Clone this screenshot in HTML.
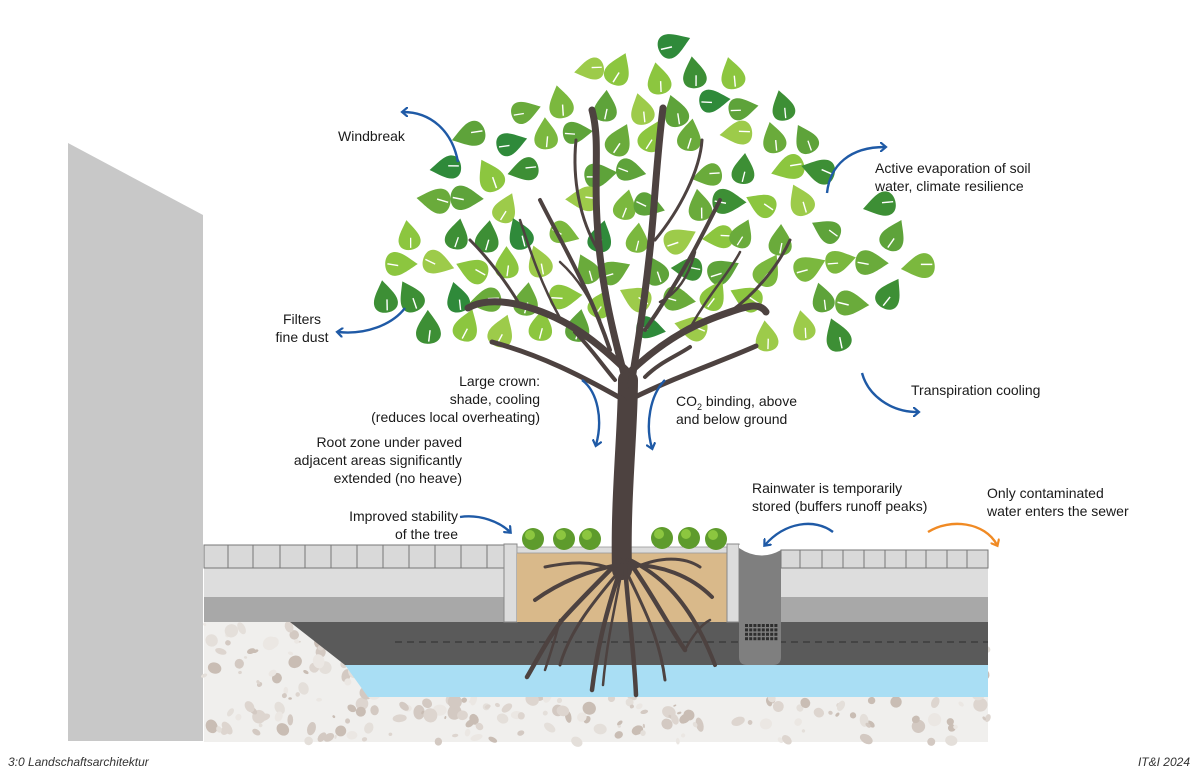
<!DOCTYPE html>
<html><head><meta charset="utf-8"><style>
html,body{margin:0;padding:0;background:#fff;}
svg{display:block;}
text{font-family:"Liberation Sans",Arial,sans-serif;font-size:14px;fill:#1a1a1a;}
.it{font-style:italic;font-size:12px;fill:#333;}
</style></head><body>
<svg id="s" width="1200" height="777" viewBox="0 0 1200 777" xmlns="http://www.w3.org/2000/svg">
<defs>
<marker id="ab" markerWidth="10" markerHeight="10" refX="5" refY="5" orient="auto" markerUnits="userSpaceOnUse"><path d="M0,0 L6,5 L0,10" fill="none" stroke="#1f5aa6" stroke-width="2.2"/></marker>
<marker id="ao" markerWidth="10" markerHeight="10" refX="5" refY="5" orient="auto" markerUnits="userSpaceOnUse"><path d="M0,0 L6,5 L0,10" fill="none" stroke="#f08a24" stroke-width="2.2"/></marker>
</defs>
<polygon points="68,143 203,215 203,741 68,741" fill="#c8c8c8"/>
<rect x="204" y="622" width="784" height="120" fill="#f0efed"/>
<g id="gravel"></g>
<polygon points="290,622 988,622 988,665 345,665" fill="#5a5a5a"/>
<polygon points="345,665 988,665 988,697 368,697" fill="#a9def4"/>
<line x1="395" y1="642" x2="988" y2="642" stroke="#2e2e2e" stroke-width="1" stroke-dasharray="7,5"/>
<rect x="204" y="568" width="301" height="29" fill="#dddddd"/>
<rect x="204" y="597" width="301" height="25" fill="#a8a8a8"/>
<rect x="204" y="545" width="301" height="23" fill="#d9d9d9" stroke="#777" stroke-width="1"/>
<g stroke="#777" stroke-width="1">
<line x1="228" y1="545" x2="228" y2="568"/><line x1="253" y1="545" x2="253" y2="568"/><line x1="280" y1="545" x2="280" y2="568"/><line x1="305" y1="545" x2="305" y2="568"/><line x1="331" y1="545" x2="331" y2="568"/><line x1="357" y1="545" x2="357" y2="568"/><line x1="383" y1="545" x2="383" y2="568"/><line x1="409" y1="545" x2="409" y2="568"/><line x1="435" y1="545" x2="435" y2="568"/><line x1="461" y1="545" x2="461" y2="568"/><line x1="487" y1="545" x2="487" y2="568"/>
</g>
<rect x="504" y="544" width="13" height="78" fill="#dcdcdc" stroke="#888" stroke-width="1"/>
<rect x="517" y="553" width="210" height="69" fill="#d9b98a"/>
<rect x="517" y="547" width="210" height="6" fill="#dcdcdc" stroke="#999" stroke-width="0.8"/>
<rect x="727" y="544" width="12" height="78" fill="#dcdcdc" stroke="#888" stroke-width="1"/>
<path d="M739,548 L739,657 Q739,665 747,665 L773,665 Q781,665 781,657 L781,548 Z" fill="#7f7f7f"/>
<path d="M739,548 Q760,562 781,550 L781,545 L739,545 Z" fill="#fff"/>
<g id="grate"></g>
<rect x="781" y="568" width="207" height="29" fill="#dddddd"/>
<rect x="781" y="597" width="207" height="25" fill="#a8a8a8"/>
<rect x="781" y="550" width="207" height="18" fill="#d9d9d9" stroke="#777" stroke-width="1"/>
<g stroke="#777" stroke-width="1">
<line x1="800" y1="550" x2="800" y2="568"/><line x1="822" y1="550" x2="822" y2="568"/><line x1="843" y1="550" x2="843" y2="568"/><line x1="864" y1="550" x2="864" y2="568"/><line x1="885" y1="550" x2="885" y2="568"/><line x1="906" y1="550" x2="906" y2="568"/><line x1="926" y1="550" x2="926" y2="568"/><line x1="947" y1="550" x2="947" y2="568"/><line x1="967" y1="550" x2="967" y2="568"/>
</g>
<g fill="#5e9b2c">
<circle cx="533" cy="539" r="11"/><circle cx="564" cy="539" r="11"/><circle cx="590" cy="539" r="11"/>
<circle cx="662" cy="538" r="11"/><circle cx="689" cy="538" r="11"/><circle cx="716" cy="539" r="11"/>
</g>
<g fill="#8cc63f">
<circle cx="530" cy="535" r="5"/><circle cx="561" cy="535" r="5"/><circle cx="587" cy="535" r="5"/>
<circle cx="659" cy="534" r="5"/><circle cx="686" cy="534" r="5"/><circle cx="713" cy="535" r="5"/>
</g>
<g id="leaves"></g>
<g fill="none" stroke="#4d4240" stroke-linecap="round">
<path d="M622,570 C620,500 628,430 628,380" stroke-width="20"/>
<path d="M627,385 C612,330 600,280 597,220 C594,170 600,140 592,110" stroke-width="7"/>
<path d="M631,385 C642,320 650,260 654,205 C657,165 659,140 663,108" stroke-width="7"/>
<path d="M626,370 C590,335 560,315 520,305 C495,299 478,302 468,308" stroke-width="7"/>
<path d="M632,370 C670,335 700,322 730,312 C750,305 760,303 766,312" stroke-width="7"/>
<path d="M624,400 C580,375 540,355 492,342" stroke-width="5"/>
<path d="M633,398 C680,375 720,362 756,346" stroke-width="5"/>
<path d="M610,350 C590,290 560,240 540,200" stroke-width="4"/>
<path d="M645,330 C680,280 700,240 720,200" stroke-width="4"/>
<path d="M598,250 C580,220 572,180 576,140" stroke-width="3"/>
<path d="M655,240 C680,210 700,170 702,140" stroke-width="3"/>
<path d="M520,305 C500,272 482,252 470,240" stroke-width="3"/>
<path d="M730,312 C760,290 780,262 790,240" stroke-width="3"/>
<path d="M560,318 C540,282 530,250 520,220" stroke-width="2.5"/>
<path d="M690,328 C710,292 730,272 740,252" stroke-width="2.5"/>
<path d="M600,320 C590,300 580,280 560,262" stroke-width="2.5"/>
<path d="M660,302 C680,292 690,272 695,252" stroke-width="2.5"/>
<path d="M615,380 C600,362 590,347 575,332" stroke-width="4"/>
<path d="M645,377 C660,362 675,357 690,347" stroke-width="4"/>
<path d="M620,560 C600,580 580,600 562,620 C547,640 537,660 527,677" stroke-width="4.5"/>
<path d="M622,565 C610,600 598,640 592,690" stroke-width="4.5"/>
<path d="M625,565 C628,610 634,650 636,695" stroke-width="4.5"/>
<path d="M628,560 C650,590 665,620 685,650" stroke-width="4.5"/>
<path d="M630,560 C660,575 690,600 715,665" stroke-width="4"/>
<path d="M618,565 C590,570 560,582 535,600" stroke-width="4"/>
<path d="M632,565 C660,565 690,575 712,597" stroke-width="4"/>
<path d="M615,570 C590,560 570,562 545,567" stroke-width="3"/>
<path d="M630,570 C660,555 685,557 700,567" stroke-width="3"/>
<path d="M616,575 C595,600 570,630 560,665" stroke-width="3"/>
<path d="M628,575 C645,610 660,640 665,680" stroke-width="3"/>
<path d="M560,620 C555,640 550,655 545,670" stroke-width="2.5"/>
<path d="M685,650 C690,640 700,625 710,620" stroke-width="2.5"/>
<path d="M620,580 C612,620 606,650 603,685" stroke-width="2.5"/>
</g>
<g fill="none" stroke="#1f5aa6" stroke-width="2.4">
<path d="M458,162 C452,130 430,112 403,112" marker-end="url(#ab)"/>
<path d="M405,308 C392,325 365,335 338,332" marker-end="url(#ab)"/>
<path d="M582,380 C598,392 603,420 596,445" marker-end="url(#ab)"/>
<path d="M665,380 C650,395 645,425 652,448" marker-end="url(#ab)"/>
<path d="M827,193 C830,165 850,147 885,147" marker-end="url(#ab)"/>
<path d="M862,373 C868,395 890,412 918,412" marker-end="url(#ab)"/>
<path d="M460,517 C480,514 500,522 510,532" marker-end="url(#ab)"/>
<path d="M833,532 C815,518 785,522 765,545" marker-end="url(#ab)"/>
</g>
<path d="M928,532 C950,518 985,522 997,545" fill="none" stroke="#f08a24" stroke-width="2.4" marker-end="url(#ao)"/>
<text x="338" y="141">Windbreak</text>
<text x="302" y="324" text-anchor="middle"><tspan x="302">Filters</tspan><tspan x="302" dy="18">fine dust</tspan></text>
<text text-anchor="end"><tspan x="540" y="386">Large crown:</tspan><tspan x="540" dy="18">shade, cooling</tspan><tspan x="540" dy="18">(reduces local overheating)</tspan></text>
<text text-anchor="end"><tspan x="462" y="447">Root zone under paved</tspan><tspan x="462" dy="18">adjacent areas significantly</tspan><tspan x="462" dy="18">extended (no heave)</tspan></text>
<text text-anchor="end"><tspan x="458" y="521">Improved stability</tspan><tspan x="458" dy="18">of the tree</tspan></text>
<text x="676" y="406">CO<tspan font-size="9" dy="4">2</tspan><tspan dy="-4"> binding, above</tspan><tspan x="676" dy="18">and below ground</tspan></text>
<text><tspan x="875" y="173">Active evaporation of soil</tspan><tspan x="875" dy="18">water, climate resilience</tspan></text>
<text x="911" y="395">Transpiration cooling</text>
<text><tspan x="752" y="493">Rainwater is temporarily</tspan><tspan x="752" dy="18">stored (buffers runoff peaks)</tspan></text>
<text><tspan x="987" y="498">Only contaminated</tspan><tspan x="987" dy="18">water enters the sewer</tspan></text>
<text class="it" x="8" y="766">3:0 Landschaftsarchitektur</text>
<text class="it" x="1190" y="766" text-anchor="end">IT&amp;I 2024</text>
</svg>
<script>
(function(){
var NS="http://www.w3.org/2000/svg";
var seed=11;function r(){seed=(seed*16807)%2147483647;return (seed-1)/2147483646;}
function el(t,a,p){var e=document.createElementNS(NS,t);for(var k in a)e.setAttribute(k,a[k]);p.appendChild(e);return e;}
var g=document.getElementById("gravel");
var gc=["#ddd5cf","#d3c9c2","#e4dfda","#c9bdb4","#ebe7e3"];
for(var i=0;i<380;i++){var x=204+r()*784,y=622+r()*120;var s=1.5+r()*6;
el("ellipse",{cx:x,cy:y,rx:s,ry:s*(0.5+r()*0.6),transform:"rotate("+(r()*180)+" "+x+" "+y+")",fill:gc[Math.floor(r()*gc.length)]},g);}
var gr=document.getElementById("grate");
for(var a=0;a<4;a++)for(var b=0;b<8;b++)el("rect",{x:745+b*4.2,y:624+a*4.4,width:3,height:3,fill:"#2e2e2e"},gr);
var poly=[[362,262],[400,205],[440,160],[480,110],[540,85],[600,60],[640,45],[690,30],[735,70],[780,100],[830,140],[880,200],[928,258],[890,305],[860,345],[800,345],[700,340],[600,345],[500,345],[455,360],[400,320]];
function inside(x,y){var c=false;for(var i=0,j=poly.length-1;i<poly.length;j=i++){var xi=poly[i][0],yi=poly[i][1],xj=poly[j][0],yj=poly[j][1];if(((yi>y)!=(yj>y))&&(x<(xj-xi)*(y-yi)/(yj-yi)+xi))c=!c;}return c;}
var L=document.getElementById("leaves");
var cols=["#8cc63f","#6aab3b","#3d8f35","#9dcb4a","#5ea33a","#7bb83e","#2f8a3a","#8cc63f"];
var row=0;
for(var yy=42;yy<360;yy+=32){row++;for(var xx=360;xx<935;xx+=37){
 var x=xx+(r()-0.5)*14+(row%2)*18,y=yy+(r()-0.5)*12;
 if(!inside(x,y))continue;
 if(r()<0.06)continue;
 var ang=(r()<0.5?(r()-0.5)*60:(r()<0.5?60+r()*50:-60-r()*50)), sc=1.0+r()*0.15;
 var grp=el("g",{transform:"translate("+x+" "+y+") rotate("+ang+") scale("+sc+")"},L);
 el("path",{d:"M0,-15 C6,-6 11,0 11,6 C11,12 6,15 0,15 C-6,15 -11,12 -11,6 C-11,0 -6,-6 0,-15 Z",fill:cols[Math.floor(r()*cols.length)]},grp);
 el("path",{d:"M0,13 L1.5,3",stroke:"#fff","stroke-width":1.3,fill:"none"},grp);
}}
})();
</script>
</body></html>
